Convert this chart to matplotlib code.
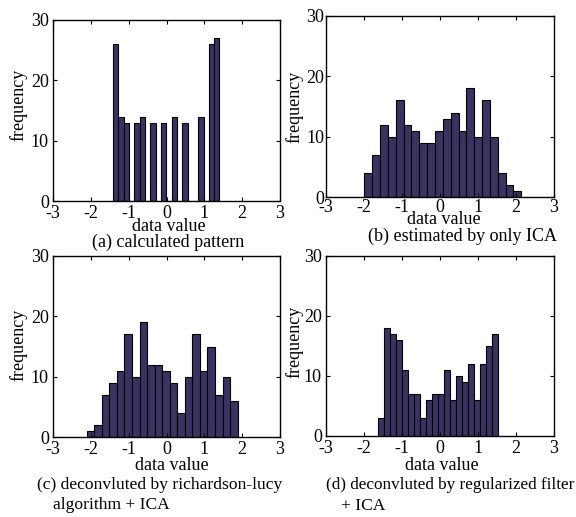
import numpy as np
import matplotlib
matplotlib.use("Agg")
import matplotlib.pyplot as plt

plt.rcParams['font.family'] = ['Liberation Serif', 'DejaVu Serif']
plt.rcParams['font.size'] = 13

# ---- data (histogram counts and data ranges) ----
counts_a = [26, 14, 13, 0, 13, 14, 0, 13, 0, 13, 0, 14, 0, 13, 0, 0, 14, 0, 26, 27]
range_a = (-1.41, 1.40)
counts_b = [4, 7, 12, 10, 16, 12, 11, 9, 9, 11, 13, 14, 11, 18, 10, 16, 10, 4, 2, 1]
range_b = (-1.99, 2.14)
counts_c = [1, 2, 7, 9, 11, 17, 10, 19, 12, 12, 11, 9, 4, 10, 17, 11, 15, 7, 10, 6]
range_c = (-2.11, 1.88)
counts_d = [3, 18, 17, 16, 11, 7, 7, 3, 6, 7, 7, 11, 6, 10, 9, 12, 6, 12, 15, 17]
range_d = (-1.62, 1.53)

xticks = [-3, -2, -1, 0, 1, 2, 3]
yticks = [0, 10, 20, 30]
xlabel = "data value"
ylabel = "frequency"

W, H = 576, 517
fig = plt.figure(figsize=(W / 100, H / 100), dpi=100)

bar_color = '#3a3260'


def fx(px):
    return px / W


def fy(py):
    return 1 - py / H


def panel(rect_px, counts, rng, xpad, ypad):
    l, t, r, b = rect_px
    ax = fig.add_axes([fx(l), fy(b), (r - l) / W, (b - t) / H])
    edges = np.linspace(rng[0], rng[1], len(counts) + 1)
    ax.bar(edges[:-1], counts, width=np.diff(edges), align='edge',
           color=bar_color, edgecolor='black', linewidth=0.8)
    ax.set_xlim(-3, 3)
    ax.set_ylim(0, 30)
    ax.set_xticks(xticks)
    ax.set_xticklabels([str(v) for v in xticks])
    ax.set_yticks(yticks)
    ax.tick_params(direction='in', top=True, right=True, length=3, width=0.8)
    ax.tick_params(axis='x', pad=xpad)
    ax.tick_params(axis='y', pad=ypad)
    for s in ax.spines.values():
        s.set_linewidth(1.0)
    return ax


panel((53, 20, 280, 201), counts_a, range_a, 3.0, 3.0)
panel((326, 16, 554, 197), counts_b, range_b, 1.5, 1.5)
panel((53, 256, 280, 437), counts_c, range_c, 3.0, 3.0)
panel((326, 256, 554, 436), counts_d, range_d, 3.0, 3.0)

# axis labels
fig.text(fx(169), fy(227), xlabel, ha='center', va='center')
fig.text(fx(444), fy(220), xlabel, ha='center', va='center')
fig.text(fx(172), fy(465), xlabel, ha='center', va='center')
fig.text(fx(442), fy(465), xlabel, ha='center', va='center')

fig.text(fx(18), fy(105), ylabel, ha='center', va='center', rotation=90)
fig.text(fx(294), fy(107), ylabel, ha='center', va='center', rotation=90)
fig.text(fx(18), fy(345), ylabel, ha='center', va='center', rotation=90)
fig.text(fx(294), fy(342), ylabel, ha='center', va='center', rotation=90)

# captions
fig.text(fx(168), fy(242), "(a) calculated pattern", ha='center', va='center')
fig.text(fx(462), fy(236), "(b) estimated by only ICA", ha='center', va='center')
fig.text(fx(37), fy(485), "(c) deconvluted by richardson-lucy", ha='left', va='center',
         fontsize=12.6)
fig.text(fx(53), fy(505), "algorithm + ICA", ha='left', va='center', fontsize=12.6)
fig.text(fx(326), fy(485), "(d) deconvluted by regularized filter", ha='left', va='center',
         fontsize=12.3)
fig.text(fx(341), fy(506), "+ ICA", ha='left', va='center', fontsize=12.6)

fig.savefig("out.png", dpi=100)
